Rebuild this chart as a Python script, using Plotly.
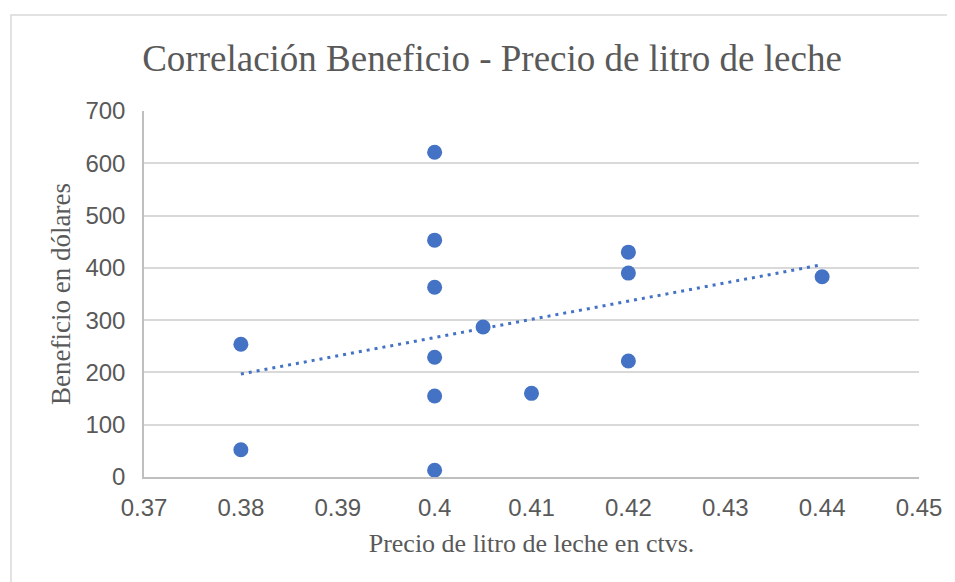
import plotly.graph_objects as go

# ---------------------------
#  Datos
# ---------------------------

precio = [0.38, 0.38, 0.40, 0.40, 0.40, 0.40, 0.40, 0.40,
          0.405, 0.41, 0.42, 0.42, 0.42, 0.44]
beneficio = [254, 52, 621, 453, 363, 229, 155, 13,
             287, 160, 430, 390, 222, 383]

# línea de tendencia (extremos)
tendencia_x = [0.38, 0.44]
tendencia_y = [197, 406]

x_ticks = [0.37, 0.38, 0.39, 0.40, 0.41, 0.42, 0.43, 0.44, 0.45]
x_labels = ["0.37", "0.38", "0.39", "0.4", "0.41", "0.42", "0.43", "0.44", "0.45"]
y_ticks = [0, 100, 200, 300, 400, 500, 600, 700]

azul = "#4472C4"
gris_texto = "#595959"
serif = "Liberation Serif, Times New Roman, serif"
sans = "Liberation Sans, Arial, sans-serif"

fig = go.Figure()

fig.add_trace(
    go.Scatter(
        x = tendencia_x,
        y = tendencia_y,
        mode = "lines",
        line = dict(color = azul, width = 3, dash = "3px,5px"),
        hoverinfo = "skip",
        showlegend = False
    )
)

fig.add_trace(
    go.Scatter(
        x = precio,
        y = beneficio,
        mode = "markers",
        marker = dict(color = azul, size = 15),
        showlegend = False
    )
)

# la página tiene 8px de margen en el body
fig.update_layout(
    width = 947,
    height = 574,
    margin = dict(l = 136, r = 36, t = 103, b = 105),
    paper_bgcolor = "white",
    plot_bgcolor = "white",
    title = dict(
        text = "Correlación Beneficio - Precio de litro de leche",
        font = dict(family = serif, size = 37, color = gris_texto),
        x = 484 / 947, xanchor = "center",
        y = 1 - 50 / 574, yanchor = "middle"
    ),
    # marco exterior del gráfico (sigue fuera de la imagen por la derecha y abajo)
    shapes = [
        dict(
            type = "rect", xref = "paper", yref = "paper",
            x0 = -0.1716, x1 = 1.15, y0 = -0.4, y1 = 1.2623,
            line = dict(color = "#d9d9d9", width = 1.5),
            layer = "below"
        )
    ]
)

fig.update_xaxes(
    range = [0.37, 0.45],
    tickvals = x_ticks,
    ticktext = x_labels,
    tickfont = dict(family = sans, size = 24, color = gris_texto),
    showgrid = False,
    zeroline = False,
    showline = True,
    linecolor = "#bfbfbf",
    linewidth = 1.5,
    ticks = "",
    ticklabelstandoff = 8,
    title = dict(
        text = "Precio de litro de leche en ctvs.",
        font = dict(family = serif, size = 26, color = gris_texto),
        standoff = 14
    )
)

fig.update_yaxes(
    range = [0, 700],
    tickvals = y_ticks,
    tickfont = dict(family = sans, size = 24, color = gris_texto),
    showgrid = True,
    gridcolor = "#d9d9d9",
    gridwidth = 1.5,
    zeroline = False,
    showline = True,
    linecolor = "#bfbfbf",
    linewidth = 1.5,
    ticks = "",
    ticklabelstandoff = 12,
    title = dict(
        text = "Beneficio en dólares",
        font = dict(family = serif, size = 27, color = gris_texto),
        standoff = 7
    )
)

fig.write_html("out.html")
